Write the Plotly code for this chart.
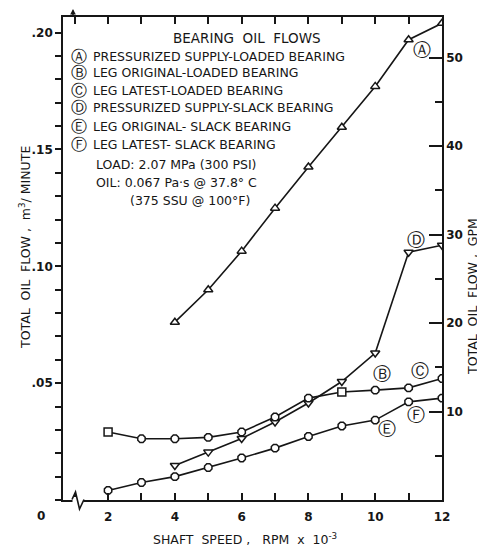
import plotly.graph_objects as go

# ---------------- data ----------------
speed_leg = [2, 3, 4, 5, 6, 7, 8, 9, 10, 11, 12]          # RPM x 10^-3
speed_press = [4, 5, 6, 7, 8, 9, 10, 11, 12]

# total oil flow, m^3/minute
press_loaded = [0.0761, 0.0900, 0.1065, 0.1249, 0.1425, 0.1595, 0.1770, 0.1970, 0.2040]   # (A)
press_slack = [0.0148, 0.0205, 0.0263, 0.0334, 0.0415, 0.0507, 0.0629, 0.1060, 0.1090]    # (D)
leg_loaded = [0.0291, 0.0262, 0.0262, 0.0268, 0.0291, 0.0355, 0.0436, 0.0462, 0.0470, 0.0480, 0.0520]  # (B)/(C)
leg_slack = [0.0041, 0.0075, 0.0100, 0.0139, 0.0180, 0.0222, 0.0272, 0.0317, 0.0342, 0.0420, 0.0436]   # (E)/(F)

leg_loaded_symbols = ["square", "octagon", "octagon", "octagon", "octagon", "octagon",
                      "octagon", "square", "octagon", "octagon", "octagon"]

x_tickvals = [1, 2, 3, 4, 5, 6, 7, 8, 9, 10, 11, 12]
x_ticktext = ["", "2", "", "4", "", "6", "", "8", "", "10", "", "12"]
y_tickvals = [round(0.01 * i, 2) for i in range(0, 21)]
y_ticktext = ["" if i % 5 or i == 0 else ("." + f"{i:02d}") for i in range(0, 21)]
gpm_tickvals = [10, 20, 30, 40, 50]
gpm_minor = [5, 15, 25, 35, 45]

legend_letters = ["Ⓐ", "Ⓑ", "Ⓒ", "Ⓓ", "Ⓔ", "Ⓕ"]
legend_texts = ["PRESSURIZED SUPPLY-LOADED BEARING",
                "LEG ORIGINAL-LOADED BEARING",
                "LEG LATEST-LOADED BEARING",
                "PRESSURIZED SUPPLY-SLACK BEARING",
                "LEG ORIGINAL- SLACK BEARING",
                "LEG LATEST- SLACK BEARING"]

M3MIN_TO_GPM = 264.17

# ---------------- layout constants ----------------
OFF = 8                      # page body margin of the html page
W, H = 485 - OFF, 548 - OFF
ML, MR, MT, MB = 63 - OFF, 43, 17 - OFF, 48
PW, PH = W - ML - MR, H - MT - MB
X_RANGE = [0.65, 12.0]
Y_TOP = 0.2067
FONT = "DejaVu Sans"
INK = "#161616"


def px(xp):
    return (xp - OFF - ML) / PW


def py(yp):
    return (H - MB - (yp - OFF)) / PH


fig = go.Figure()

line = dict(color=INK, width=1.6)
mk = dict(size=8, color="white", line=dict(color=INK, width=1.5))

fig.add_trace(go.Scatter(x=speed_press, y=press_loaded, mode="lines+markers", line=line,
                         marker=dict(symbol="triangle-up", **mk), name="A"))
fig.add_trace(go.Scatter(x=speed_press, y=press_slack, mode="lines+markers", line=line,
                         marker=dict(symbol="triangle-down", **mk), name="D"))
fig.add_trace(go.Scatter(x=speed_leg, y=leg_loaded, mode="lines+markers", line=line,
                         marker=dict(symbol=leg_loaded_symbols, **mk), name="B/C"))
fig.add_trace(go.Scatter(x=speed_leg, y=leg_slack, mode="lines+markers", line=line,
                         marker=dict(symbol="octagon", **mk), name="E/F"))
# invisible trace to carry the GPM axis
fig.add_trace(go.Scatter(x=speed_press, y=[v * M3MIN_TO_GPM for v in press_loaded], yaxis="y2",
                         mode="lines", line=dict(width=0), opacity=0, hoverinfo="skip",
                         showlegend=False))

tickfont = dict(family=FONT, size=12, color=INK, weight="bold")

fig.update_layout(
    width=W, height=H,
    margin=dict(l=ML, r=MR, t=MT, b=MB, pad=0, autoexpand=False),
    paper_bgcolor="white", plot_bgcolor="white",
    showlegend=False,
    xaxis=dict(range=X_RANGE, tickvals=x_tickvals, ticktext=x_ticktext, ticks="inside",
               ticklen=7, tickwidth=1.5, tickcolor=INK, showline=True, linewidth=1.6,
               linecolor=INK, mirror="ticks", showgrid=False, zeroline=False,
               tickfont=tickfont, ticklabelstandoff=5),
    yaxis=dict(range=[0, Y_TOP], tickvals=y_tickvals, ticktext=y_ticktext, ticks="outside",
               ticklen=6, tickwidth=1.5, tickcolor=INK, showline=True, linewidth=1.6,
               linecolor=INK, showgrid=False, zeroline=False, tickfont=tickfont),
    yaxis2=dict(range=[0, Y_TOP * M3MIN_TO_GPM], overlaying="y", side="right",
                tickvals=gpm_tickvals, ticks="inside", ticklen=13, tickwidth=1.5,
                tickcolor=INK, showline=True, linewidth=1.6, linecolor=INK,
                showgrid=False, zeroline=False, tickfont=tickfont,
                minor=dict(tickvals=gpm_minor, ticks="inside", ticklen=7, tickwidth=1.5,
                           tickcolor=INK, showgrid=False)),
)

ann = []
txt = dict(family=FONT, size=12.5, color=INK)

# title of legend block
ann.append(dict(x=px(247), y=py(38), xref="paper", yref="paper", text="BEARING  OIL  FLOWS",
                showarrow=False, font=dict(family=FONT, size=13.5, color=INK),
                xanchor="center", yanchor="middle"))
legend_y = [57, 72, 90, 108, 126, 144]
for letter, label, yy in zip(legend_letters, legend_texts, legend_y):
    ann.append(dict(x=px(79), y=py(yy), xref="paper", yref="paper", text=letter, showarrow=False,
                    font=dict(family=FONT, size=16, color=INK), xanchor="center", yanchor="middle",
                    borderpad=0))
    ann.append(dict(x=px(92), y=py(yy), xref="paper", yref="paper", text=label, showarrow=False,
                    font=txt, xanchor="left", yanchor="middle", borderpad=0))

cond = [("LOAD: 2.07 MPa (300 PSI)", 94, 165),
        ("OIL: 0.067 Pa·s @ 37.8° C", 94, 182),
        ("(375 SSU @ 100°F)", 128, 200)]
for t, xx, yy in cond:
    ann.append(dict(x=px(xx), y=py(yy), xref="paper", yref="paper", text=t, showarrow=False,
                    font=dict(family=FONT, size=12.5, color=INK), xanchor="left", yanchor="middle"))

# curve labels (data coordinates)
curve_labels = [("Ⓐ", 11.40, 0.1930), ("Ⓓ", 11.22, 0.1116), ("Ⓑ", 10.20, 0.0543),
                ("Ⓒ", 11.34, 0.0556), ("Ⓕ", 11.22, 0.0368), ("Ⓔ", 10.35, 0.0308)]
for t, xx, yy in curve_labels:
    ann.append(dict(x=xx, y=yy, xref="x", yref="y", text=t, showarrow=False,
                    font=dict(family=FONT, size=18, color=INK), xanchor="center", yanchor="middle"))

# axis titles
ann.append(dict(x=px(25), y=py(248), xref="paper", yref="paper",
                text="TOTAL  OIL  FLOW ,  m<sup>3</sup>/ MINUTE", textangle=-90, showarrow=False,
                font=dict(family=FONT, size=12.5, color=INK), xanchor="center", yanchor="middle"))
ann.append(dict(x=px(472), y=py(297), xref="paper", yref="paper",
                text="TOTAL  OIL  FLOW ,  GPM", textangle=-90, showarrow=False,
                font=dict(family=FONT, size=12.5, color=INK), xanchor="center", yanchor="middle"))
ann.append(dict(x=px(245), y=py(539), xref="paper", yref="paper",
                text="SHAFT  SPEED ,   RPM  x  10<sup>-3</sup>", showarrow=False,
                font=dict(family=FONT, size=12.5, color=INK), xanchor="center", yanchor="middle"))
# origin label
ann.append(dict(x=(0 - X_RANGE[0]) / (X_RANGE[1] - X_RANGE[0]), y=py(516), xref="paper", yref="paper",
                text="0", showarrow=False, font=tickfont, xanchor="center", yanchor="middle"))
# small arrow at the top of the frame
ann.append(dict(x=px(73), y=py(7), xref="paper", yref="paper", ax=0, ay=11, text="",
                showarrow=True, arrowhead=2, arrowsize=0.8, arrowwidth=1.4, arrowcolor=INK))

fig.update_layout(annotations=ann)

# axis break zigzag on the bottom axis
fig.add_shape(type="rect", xref="paper", yref="paper", x0=px(72.5), x1=px(83.5), y0=py(502),
              y1=py(497), fillcolor="white", line=dict(width=0), layer="above")
fig.add_shape(type="path", xref="paper", yref="paper",
              path=f"M {px(72)} {py(499.5)} L {px(75.5)} {py(492)} L {px(79.5)} {py(509)} "
                   f"L {px(84)} {py(499.5)}",
              line=dict(color=INK, width=1.6), layer="above")

fig.write_html("out.html")
